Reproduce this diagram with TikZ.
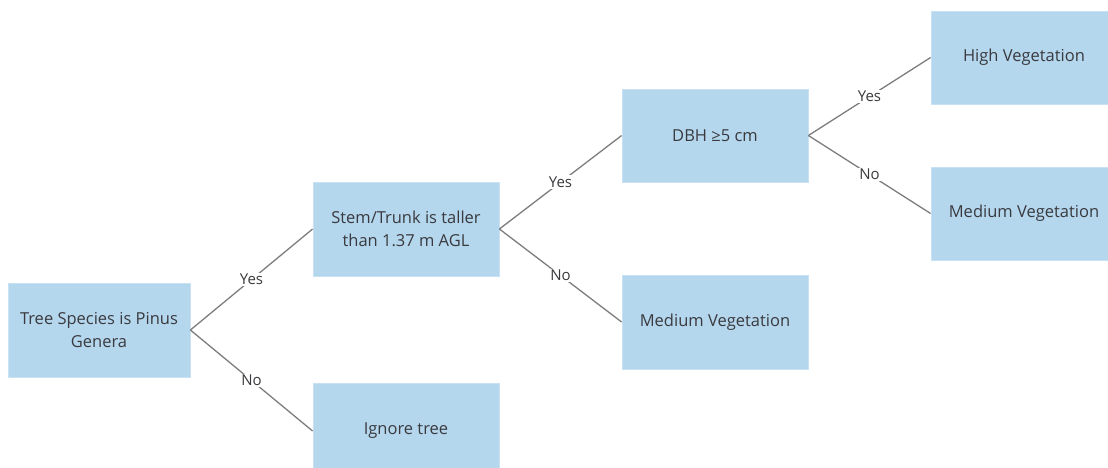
\documentclass[tikz,border=0pt]{standalone}
\usepackage{fontspec}
\setmainfont{Open Sans}
\definecolor{boxfill}{RGB}{180,215,238}
\definecolor{boxedge}{RGB}{200,225,243}
\definecolor{txt}{RGB}{58,58,62}
\definecolor{ln}{RGB}{125,125,125}
\begin{document}
\begin{tikzpicture}[x=1pt,y=-1pt,
  box/.style={fill=boxfill, draw=boxedge, line width=0.8pt, minimum width=186pt, minimum height=93pt,
    inner sep=0pt, align=center, text=txt, font=\fontsize{16.5}{23}\selectfont},
  conn/.style={draw=ln, line width=1.3pt},
  lab/.style={fill=white, inner sep=1.5pt, text=txt, font=\fontsize{15}{17}\selectfont}]
\useasboundingbox (0,0) rectangle (1108,467);
\clip (0,0) rectangle (1108,467);
\node[box, minimum width=182pt, minimum height=94pt] (a) at (99,330) {Tree Species is Pinus\\Genera};
\node[box, minimum height=94pt] (b) at (406,229) {Stem/Trunk is taller\\than 1.37 m AGL};
\node[box, minimum height=96pt] (c) at (406,431) {Ignore tree};
\node[box] (d) at (715,135.5) {DBH ≥5 cm};
\node[box, minimum height=94pt] (e) at (715,322) {Medium Vegetation};
\node[box] (f) at (1024,57.5) {High Vegetation};
\node[box] (g) at (1024,213.5) {Medium Vegetation};
\draw[conn] (a.east) -- node[lab] {Yes} (b.west);
\draw[conn] (a.east) -- node[lab] {No} (c.west);
\draw[conn] (b.east) -- node[lab] {Yes} (d.west);
\draw[conn] (b.east) -- node[lab] {No} (e.west);
\draw[conn] (d.east) -- node[lab] {Yes} (f.west);
\draw[conn] (d.east) -- node[lab] {No} (g.west);
\end{tikzpicture}
\end{document}
